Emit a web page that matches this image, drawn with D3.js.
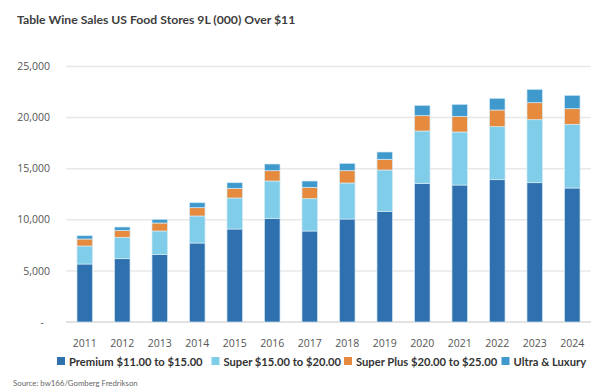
<!DOCTYPE html>
<html>
<head>
<meta charset="utf-8">
<script src="https://cdn.jsdelivr.net/npm/d3@7"></script>
<style>
  html, body { margin: 0; padding: 0; background: #fff; }
  svg { display: block; }
</style>
</head>
<body>
<svg id="chart" width="600" height="392"></svg>
<script>
const years = ["2011","2012","2013","2014","2015","2016","2017","2018","2019","2020","2021","2022","2023","2024"];
const seriesNames = ["Premium $11.00 to $15.00", "Super $15.00 to $20.00", "Super Plus $20.00 to $25.00", "Ultra & Luxury"];
const premium   = [5675, 6194, 6624, 7730, 9100, 10147, 8904, 10078, 10832, 13571, 13405, 13924, 13630, 13112];
const superTier = [1761, 2094, 2280, 2642, 3033, 3649, 3161, 3523, 4041, 5118, 5186, 5186, 6165, 6232];
const superPlus = [685, 685, 783, 812, 949, 1008, 1115, 1203, 1047, 1497, 1536, 1634, 1663, 1527];
const ultra     = [323, 322, 362, 489, 548, 656, 616, 724, 714, 1017, 1174, 1144, 1311, 1311];
const yTicks = [0, 5000, 10000, 15000, 20000, 25000];
const colors = ["#2f70ae", "#7fcde8", "#e68b3e", "#3f99cd"];
const titleText = "Table Wine Sales US Food Stores 9L (000) Over $11";
const sourceText = "Source: bw166/Gomberg Fredrikson";

const keys = ["premium", "superTier", "superPlus", "ultra"];
const table = years.map((y, i) => ({year: y, premium: premium[i], superTier: superTier[i], superPlus: superPlus[i], ultra: ultra[i]}));

const svg = d3.select("#chart");
const x = d3.scaleBand().domain(years).range([66, 591]).paddingInner(0.585).paddingOuter(0.2925);
const y = d3.scaleLinear().domain([0, 25000]).range([322, 66.5]);

const font = "Lato, 'Open Sans', sans-serif";

// title
svg.append("text").attr("x", 17).attr("y", 24)
  .attr("font-family", font).attr("font-weight", 700).attr("font-size", 12.2)
  .attr("fill", "#3d3d3d").text(titleText);

// gridlines
svg.append("g").selectAll("line").data(yTicks).join("line")
  .attr("x1", 66).attr("x2", 591)
  .attr("y1", d => y(d)).attr("y2", d => y(d))
  .attr("stroke", d => d === 0 ? "#d9d9d9" : "#e8e8e8").attr("stroke-width", 1.5);

// y labels
svg.append("g").selectAll("text").data(yTicks).join("text")
  .attr("x", d => d === 0 ? 44 : 50).attr("y", d => y(d)).attr("dy", "0.35em")
  .attr("text-anchor", "end")
  .attr("font-family", "'Open Sans', sans-serif").attr("font-size", 10.5).attr("fill", "#555")
  .text(d => d === 0 ? "-" : d3.format(",")(d));

// bars
const stack = d3.stack().keys(keys)(table);
svg.append("g").selectAll("g").data(stack).join("g")
  .attr("fill", (d, i) => colors[i])
  .selectAll("rect").data(d => d).join("rect")
  .attr("x", d => x(d.data.year))
  .attr("width", x.bandwidth())
  .attr("y", d => y(d[1]))
  .attr("height", d => y(d[0]) - y(d[1]))
  .attr("stroke", "#d6ebf5").attr("stroke-width", 0.7);

// x labels
svg.append("g").selectAll("text").data(years).join("text")
  .attr("x", d => x(d) + x.bandwidth() / 2).attr("y", 343).attr("dy", "0.35em")
  .attr("text-anchor", "middle")
  .attr("font-family", "'Open Sans', sans-serif").attr("font-size", 10.5).attr("fill", "#555")
  .text(d => d);

// legend
const legendX = [57, 211.5, 344, 501.5];
const lg = svg.append("g").selectAll("g").data(seriesNames).join("g")
  .attr("transform", (d, i) => `translate(${legendX[i]},362)`);
lg.append("rect").attr("x", 0).attr("y", -5).attr("width", 8).attr("height", 8)
  .attr("fill", (d, i) => colors[i]);
lg.append("text").attr("x", 12).attr("y", 0).attr("dy", "0.35em")
  .attr("font-family", font).attr("font-weight", 700).attr("font-size", 11.2).attr("fill", "#333")
  .text(d => d);

// source
svg.append("text").attr("x", 13).attr("y", 383).attr("dy", "0.35em")
  .attr("font-family", font).attr("font-size", 7.8).attr("fill", "#666")
  .text(sourceText);
</script>
</body>
</html>
